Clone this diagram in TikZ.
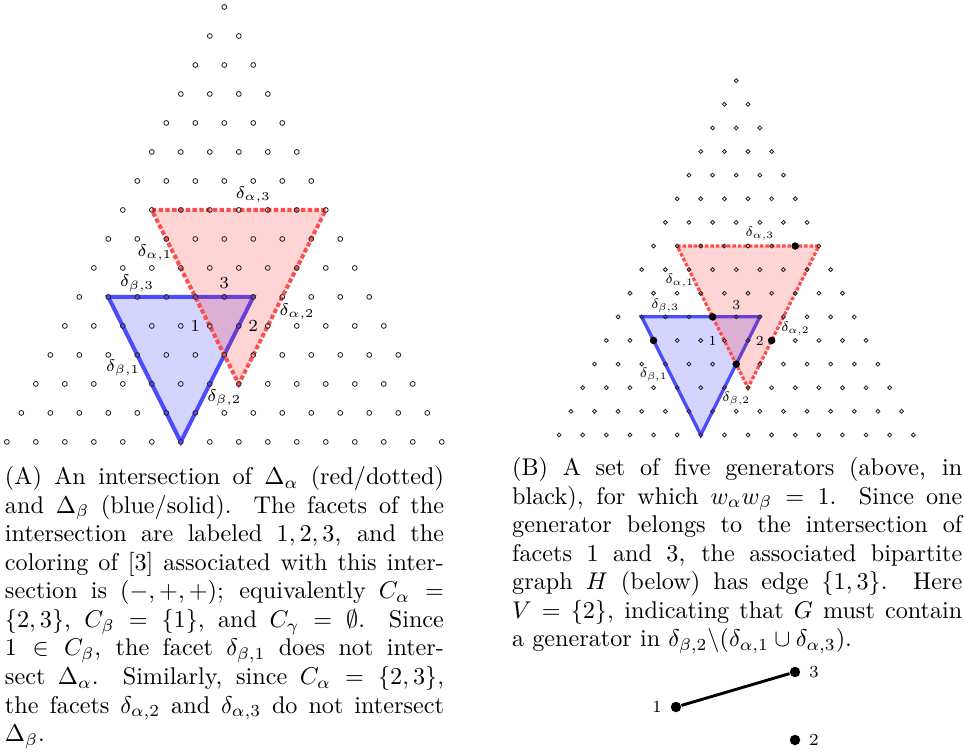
\documentclass[tikz,border=0pt]{standalone}
\usepackage{amsmath,amssymb}
\usepackage{tikz}
\usepackage{xcolor}
\usetikzlibrary{backgrounds}

\begin{document}
\begin{tikzpicture}[x=0.4132pt,y=-0.4132pt,
  latdot/.style={circle,draw=black!85,line width=0.35pt,inner sep=0pt,minimum size=2pt},
  gendot/.style={circle,fill=black,inner sep=0pt,minimum size=3.1pt},
  hdot/.style={circle,fill=black,inner sep=0pt,minimum size=4.3pt},
  facet/.style={font=\scriptsize,inner sep=0pt},
  captext/.style={anchor=north west,inner sep=0pt,align=justify,font=\fontsize{10}{11.8}\selectfont}]
\useasboundingbox (0,0) rectangle (964,752);
% the two lattices, (b) is (a) shrunk
\foreach \p/\ox/\oy/\k/\lw/\don/\doff in {a/224.3/7/1/1.65pt/1.8pt/1pt,b/736.2/80.7/0.8145/1.35pt/1.47pt/0.81pt}{
  \begin{scope}[shift={(\ox,\oy)},x=11.98pt,y=-11.98pt,scale=\k,transform shape]
  \foreach \r in {0,...,15}
    \foreach \j in {0,...,\r}
      \node[latdot] (\p-\r-\j) at ({\j-\r/2},\r) {};
  \begin{scope}[on background layer]
  \filldraw[fill=blue!17,draw=blue!70,line width=\lw] (\p-10-1.center) -- (\p-10-6.center) -- (\p-15-6.center) -- cycle;
  \filldraw[fill=red,fill opacity=0.17,draw=red!70,line width=\lw,dash pattern=on \don off \doff] (\p-7-1.center) -- (\p-7-7.center) -- (\p-13-7.center) -- cycle;
  \end{scope}
  \node[facet] (\p-da3) at (1,6.48) {$\delta_{\alpha,3}$};
  \node[facet] (\p-da1) at (-2.39,8.48) {$\delta_{\alpha,1}$};
  \node[facet] (\p-da2) at (2.51,10.52) {$\delta_{\alpha,2}$};
  \node[facet] (\p-db3) at (-3.01,9.52) {$\delta_{\beta,3}$};
  \node[facet] (\p-db1) at (-3.49,12.45) {$\delta_{\beta,1}$};
  \node[facet] (\p-db2) at (0,13.48) {$\delta_{\beta,2}$};
  \node[facet] (\p-f3) at (0,9.52) {3};
  \node[facet] (\p-f1) at (-1,11) {1};
  \node[facet] (\p-f2) at (1,11) {2};
  \end{scope}
}
% generators
\foreach \g in {7-6,10-4,11-2,11-7,12-6}
  \node[gendot] (gen-\g) at (b-\g) {};
% graph H
\node[hdot,label distance=4pt,label={[name=hl1,font=\scriptsize]left:1}] (h1) at (676,707) {};
\node[hdot,label distance=4pt,label={[name=hl3,font=\scriptsize]right:3}] (h3) at (795,672) {};
\node[hdot,label distance=4pt,label={[name=hl2,font=\scriptsize]right:2}] (h2) at (795,740) {};
\draw[line width=1.2pt] (h1) -- (h3);
% captions
\node[captext,text width=181.4pt] (capA) at (4.5,466) {(A) An intersection of $\Delta_\alpha$ (red/dotted)\linebreak
and $\Delta_\beta$ (blue/solid). The facets of the\linebreak
intersection are labeled $1,2,3$, and the\linebreak
coloring of $[3]$ associated with this inter-\linebreak
section is $(-,+,+)$; equivalently $C_\alpha =$\linebreak
$\{2,3\}$, $C_\beta = \{1\}$, and $C_\gamma = \emptyset$. Since\linebreak
$1 \in C_\beta$, the facet $\delta_{\beta,1}$ does not inter-\linebreak
sect $\Delta_\alpha$. Similarly, since $C_\alpha = \{2,3\}$,\linebreak
the facets $\delta_{\alpha,2}$ and $\delta_{\alpha,3}$ do not intersect\linebreak
$\Delta_\beta$.};
\node[captext,text width=186pt] (capB) at (511.7,457) {(B) A set of five generators (above, in\linebreak
black), for which $w_\alpha w_\beta = 1$. Since one\linebreak
generator belongs to the intersection of\linebreak
facets 1 and 3, the associated bipartite\linebreak
graph $H$ (below) has edge $\{1,3\}$. Here\linebreak
$V = \{2\}$, indicating that $G$ must contain\linebreak
a generator in $\delta_{\beta,2}\backslash(\delta_{\alpha,1}\cup\delta_{\alpha,3})$.};
\end{tikzpicture}
\end{document}
